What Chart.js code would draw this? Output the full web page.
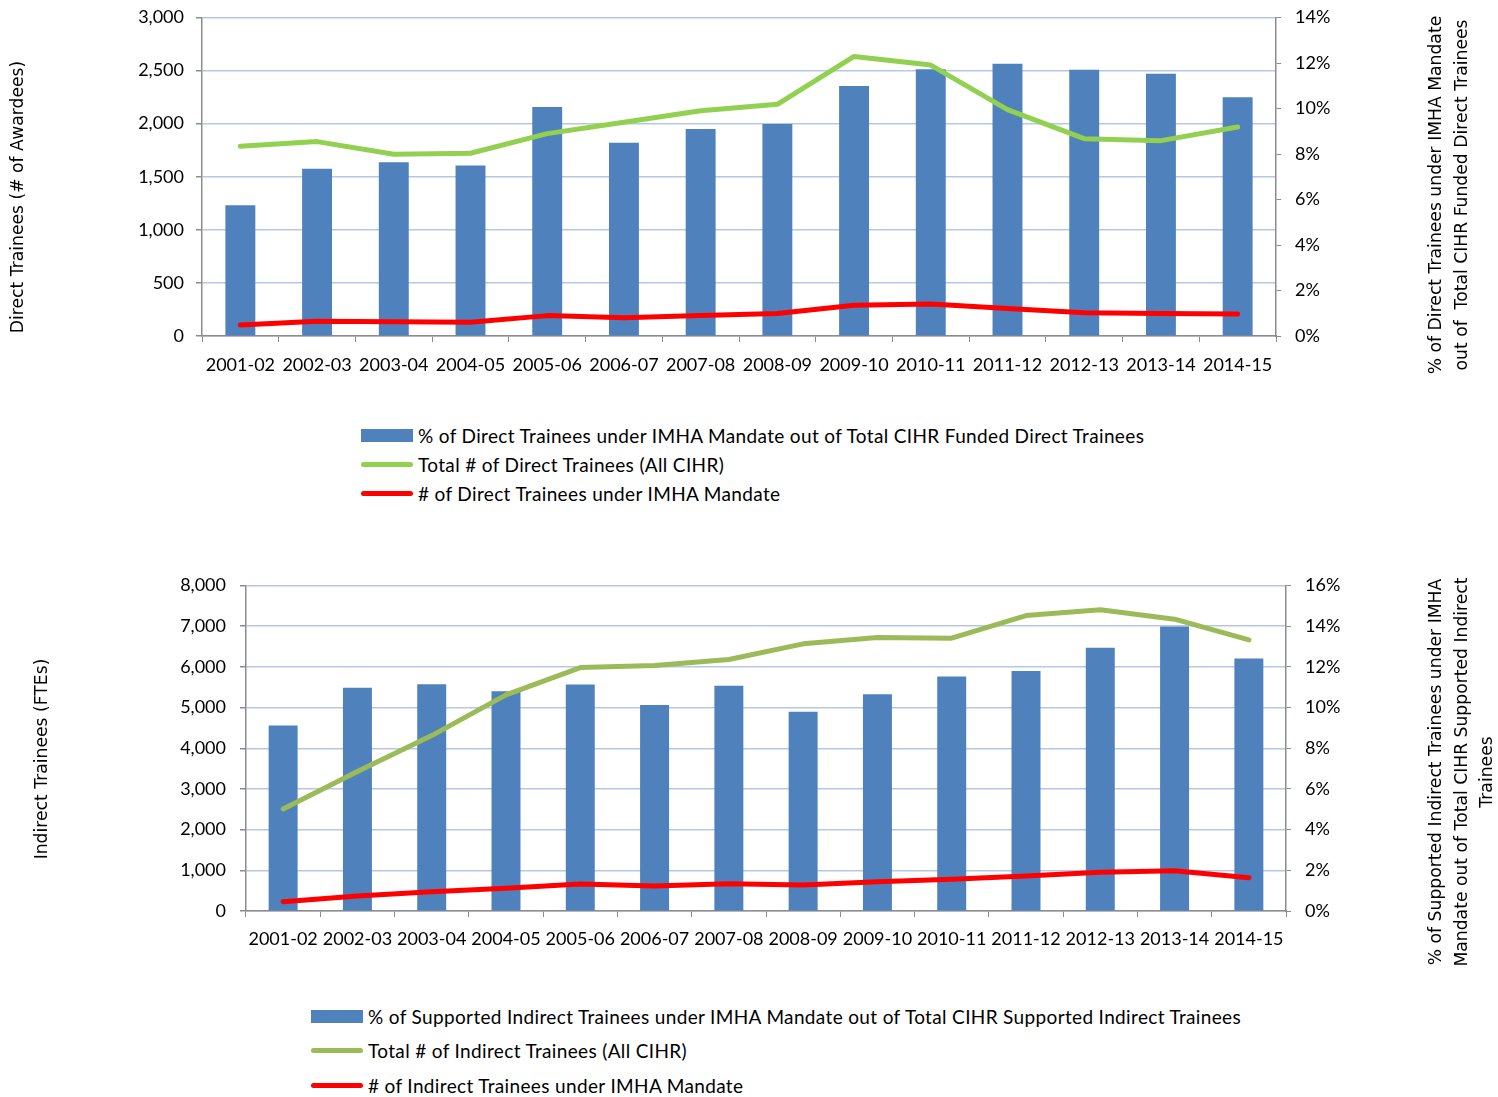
<!DOCTYPE html>
<html>
<head>
<meta charset="utf-8">
<script src="https://cdn.jsdelivr.net/npm/chart.js@4.4.1/dist/chart.umd.min.js"></script>
<style>
  html, body { margin: 0; padding: 0; background: #fff; }
  body { width: 1498px; height: 1097px; position: relative; overflow: hidden; font-family: Lato, sans-serif; }
  .wrap { position: absolute; left: 0; width: 1498px; }
  #wrap1 { top: 0; height: 395px; }
  #wrap2 { top: 560px; height: 425px; }
  .legend { position: absolute; font-size: 19px; letter-spacing: 0.35px; color: #000; }
  .legend .row { position: absolute; left: 0; white-space: nowrap; display: flex; align-items: center; height: 24px; }
  .legend .sym { width: 52px; margin-right: 5px; position: relative; height: 24px; }
  .legend .sym span { position: absolute; left: 0; right: 0; }
</style>
</head>
<body>
<div class="wrap" id="wrap1"><canvas id="chart1"></canvas></div>
<div class="legend" id="legend1" style="left:361px; top:423px;"></div>
<div class="wrap" id="wrap2"><canvas id="chart2"></canvas></div>
<div class="legend" id="legend2" style="left:311px; top:1004px;"></div>
<script>
// Categories (fiscal years)
const years = ['2001-02', '2002-03', '2003-04', '2004-05', '2005-06', '2006-07', '2007-08',
               '2008-09', '2009-10', '2010-11', '2011-12', '2012-13', '2013-14', '2014-15'];

// Direct trainees
const directPct = [5.75, 7.35, 7.64, 7.49, 10.07, 8.49, 9.10, 9.32, 10.99, 11.73, 11.97, 11.70, 11.53, 10.49];
const directTotal = [1787, 1831, 1712, 1721, 1906, 2013, 2122, 2182, 2633, 2552, 2132, 1859, 1840, 1969];
const directImha = [103, 138, 135, 129, 192, 173, 192, 211, 289, 301, 258, 220, 213, 207];

// Indirect trainees
const indirectPct = [9.12, 10.97, 11.15, 10.80, 11.13, 10.13, 11.07, 9.79, 10.66, 11.53, 11.80, 12.94, 13.99, 12.41];
const indirectTotal = [2508, 3426, 4311, 5311, 5983, 6032, 6180, 6566, 6721, 6705, 7262, 7402, 7172, 6664];
const indirectImha = [230, 369, 475, 557, 664, 615, 672, 639, 721, 779, 861, 951, 992, 820];

// Axis titles
const directLeftTitle = ['Direct Trainees (# of Awardees)'];
const directRightTitle = ['% of Direct Trainees under IMHA Mandate', 'out of  Total CIHR Funded Direct Trainees'];
const indirectLeftTitle = ['Indirect Trainees (FTEs)'];
const indirectRightTitle = ['% of Supported Indirect Trainees under IMHA',
                            'Mandate out of Total CIHR Supported Indirect', 'Trainees'];

Chart.defaults.font.family = 'Lato';
Chart.defaults.font.size = 18;
Chart.defaults.color = '#000';
Chart.defaults.animation = false;

const BLUE = '#4F81BD';
const RED = '#FF0000';
const GRID = '#b4c8e6';
const AXIS = '#8c8c8c';

// draws the rotated side titles (bottom-to-top text)
const sideTitles = {
  id: 'sideTitles',
  afterDraw(chart, args, opts) {
    const ctx = chart.ctx;
    ctx.save();
    ctx.fillStyle = '#000';
    ctx.font = opts.font;
    ctx.textAlign = 'center';
    ctx.textBaseline = 'middle';
    opts.items.forEach(item => {
      item.lines.forEach((line, i) => {
        ctx.save();
        ctx.translate(item.x + i * item.lineGap, item.y);
        ctx.rotate(-Math.PI / 2);
        ctx.fillText(line, 0, 0);
        ctx.restore();
      });
    });
    ctx.restore();
  }
};

// fixed-width y axes; drop the label overhang padding so layout.padding sets the top
function fixY(width) {
  return s => {
    s.width = width;
    s.paddingTop = 0;
    s.paddingBottom = 0;
  };
}

function makeChart(id, cfg) {
  const ctx = document.getElementById(id);
  ctx.parentNode.style.height = cfg.height + 'px';
  return new Chart(ctx, {
    type: 'bar',
    data: {
      labels: years,
      datasets: [{
        label: cfg.pctLabel,
        data: cfg.pct,
        yAxisID: 'y1',
        backgroundColor: BLUE,
        categoryPercentage: 1,
        barPercentage: 0.39,
        order: 3
      }, {
        type: 'line',
        label: cfg.totalLabel,
        data: cfg.total,
        yAxisID: 'y',
        borderColor: cfg.green,
        backgroundColor: cfg.green,
        borderWidth: 5,
        borderCapStyle: 'round',
        borderJoinStyle: 'round',
        pointRadius: 0,
        order: 2
      }, {
        type: 'line',
        label: cfg.imhaLabel,
        data: cfg.imha,
        yAxisID: 'y',
        borderColor: RED,
        backgroundColor: RED,
        borderWidth: 5,
        borderCapStyle: 'round',
        borderJoinStyle: 'round',
        pointRadius: 0,
        order: 1
      }]
    },
    options: {
      responsive: true,
      maintainAspectRatio: false,
      layout: { padding: { top: cfg.padTop, left: 0, right: 0, bottom: 0 } },
      plugins: {
        legend: { display: false },
        tooltip: { enabled: false },
        sideTitles: { font: '17.2px "DejaVu Sans"', items: cfg.titles }
      },
      scales: {
        x: {
          grid: { offset: true, drawOnChartArea: false, color: AXIS, tickLength: 6 },
          border: { color: AXIS, width: 1.5 },
          ticks: { padding: cfg.xPad, maxRotation: 0, autoSkip: false },
          afterFit: s => { s.height = cfg.xHeight; }
        },
        y: {
          position: 'left',
          min: 0, max: cfg.leftMax,
          ticks: { stepSize: cfg.leftStep, padding: cfg.yPad },
          grid: { color: GRID, lineWidth: 1.5, tickColor: AXIS, tickLength: 6 },
          border: { color: AXIS, width: 1.5 },
          afterFit: fixY(cfg.leftWidth)
        },
        y1: {
          position: 'right',
          min: 0, max: cfg.rightMax,
          ticks: { stepSize: 2, padding: cfg.y1Pad, callback: v => v + '%' },
          grid: { drawOnChartArea: false, color: AXIS, tickLength: 5 },
          border: { color: AXIS, width: 1.5 },
          afterFit: fixY(cfg.rightWidth)
        }
      }
    },
    plugins: [sideTitles]
  });
}

function buildLegend(el, chart, rowGap) {
  chart.data.datasets.forEach((ds, i) => {
    const row = document.createElement('div');
    row.className = 'row';
    row.style.top = (i * rowGap) + 'px';
    const sym = document.createElement('div');
    sym.className = 'sym';
    const mark = document.createElement('span');
    if (ds.type === 'line') {
      mark.style.top = '9.5px';
      mark.style.height = '5px';
      mark.style.borderRadius = '3px';
    } else {
      mark.style.top = '5.5px';
      mark.style.height = '13px';
    }
    mark.style.background = ds.borderColor || ds.backgroundColor;
    sym.appendChild(mark);
    const txt = document.createElement('span');
    txt.textContent = ds.label;
    row.appendChild(sym);
    row.appendChild(txt);
    el.appendChild(row);
  });
}

const chart1 = makeChart('chart1', {
  height: 395, padTop: 17.5, xHeight: 59, leftWidth: 202, rightWidth: 222,
  xPad: 12, yPad: 12, y1Pad: 14,
  leftMax: 3000, leftStep: 500, rightMax: 14,
  green: '#92D050',
  pct: directPct, total: directTotal, imha: directImha,
  pctLabel: '% of Direct Trainees under IMHA Mandate out of Total CIHR Funded Direct Trainees',
  totalLabel: 'Total # of Direct Trainees (All CIHR)',
  imhaLabel: '# of Direct Trainees under IMHA Mandate',
  titles: [
    { lines: directLeftTitle, x: 19, y: 197, lineGap: 26 },
    { lines: directRightTitle, x: 1437, y: 195, lineGap: 26 }
  ]
});

const chart2 = makeChart('chart2', {
  height: 425, padTop: 25.5, xHeight: 74, leftWidth: 246, rightWidth: 212,
  xPad: 11, yPad: 14, y1Pad: 14,
  leftMax: 8000, leftStep: 1000, rightMax: 16,
  green: '#9BBB59',
  pct: indirectPct, total: indirectTotal, imha: indirectImha,
  pctLabel: '% of Supported Indirect Trainees under IMHA Mandate out of Total CIHR Supported Indirect Trainees',
  totalLabel: 'Total # of Indirect Trainees (All CIHR)',
  imhaLabel: '# of Indirect Trainees under IMHA Mandate',
  titles: [
    { lines: indirectLeftTitle, x: 43, y: 199, lineGap: 26 },
    { lines: indirectRightTitle, x: 1437, y: 212, lineGap: 25.5 }
  ]
});

buildLegend(document.getElementById('legend1'), chart1, 29);
buildLegend(document.getElementById('legend2'), chart2, 34.5);
</script>
</body>
</html>
